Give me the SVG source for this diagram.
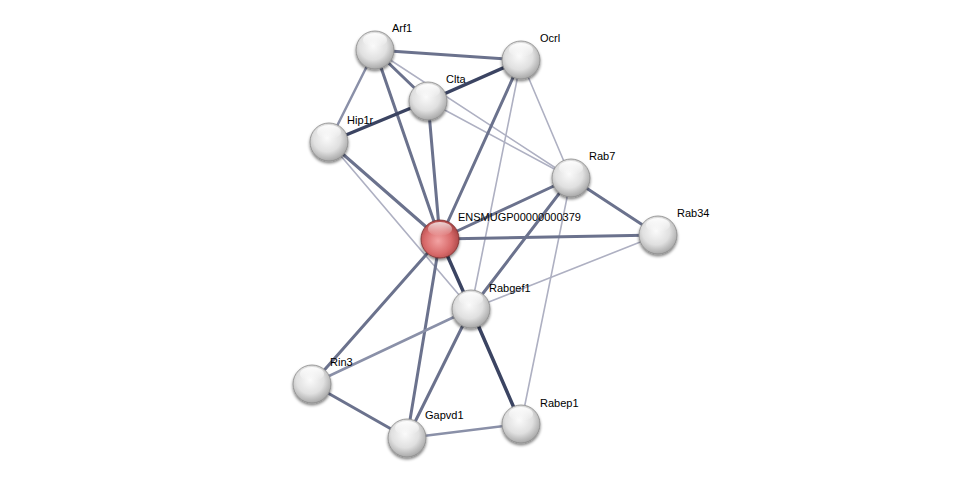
<svg xmlns="http://www.w3.org/2000/svg" width="975" height="483" viewBox="0 0 975 483">
<style>
.e{fill:none;stroke-linecap:round}
.d{stroke:#3b4462;stroke-width:3.5}
.m{stroke:#6b728d;stroke-width:3}
.ml{stroke:#8a90a8;stroke-width:2.5}
.l{stroke:#aeb0c2;stroke-width:1.6}
text{font-family:"Liberation Sans",Arial,sans-serif;font-size:11px;fill:#000}
</style>
<defs>
<radialGradient id="g" cx="0.45" cy="0.4" r="0.6">
<stop offset="0" stop-color="#fafafa"/>
<stop offset="0.6" stop-color="#e0e0e0"/>
<stop offset="1" stop-color="#a9a9a9"/>
</radialGradient>
<radialGradient id="r" cx="0.45" cy="0.55" r="0.6">
<stop offset="0" stop-color="#f3a3a3"/>
<stop offset="0.6" stop-color="#d86a6a"/>
<stop offset="1" stop-color="#a34040"/>
</radialGradient>
<linearGradient id="h" x1="0" y1="0" x2="0" y2="1">
<stop offset="0" stop-color="#fff" stop-opacity="0.95"/>
<stop offset="1" stop-color="#fff" stop-opacity="0"/>
</linearGradient>
<filter id="s" x="-30%" y="-30%" width="160%" height="170%">
<feGaussianBlur in="SourceAlpha" stdDeviation="1.5"/>
<feOffset dx="0" dy="2" result="o"/>
<feComponentTransfer><feFuncA type="linear" slope="0.5"/></feComponentTransfer>
<feMerge><feMergeNode/><feMergeNode in="SourceGraphic"/></feMerge>
</filter>
<g id="ball"><circle r="19" fill="url(#g)" stroke="#8a8a8a" stroke-width="0.8"/><ellipse cx="0" cy="-10" rx="12" ry="7" fill="url(#h)"/></g>
<g id="rball"><circle r="19" fill="url(#r)" stroke="#7a2e2e" stroke-width="0.8"/><ellipse cx="0" cy="-10" rx="12" ry="7" fill="url(#h)" opacity="0.8"/></g>
</defs>
<rect width="975" height="483" fill="#fff"/>
<g id="edges">
<line class="e m" x1="375" y1="50" x2="521" y2="60"/>
<line class="e ml" x1="375" y1="50" x2="329" y2="142"/>
<line class="e m" x1="375" y1="50" x2="428" y2="101"/>
<line class="e m" x1="375" y1="50" x2="440" y2="239"/>
<line class="e l" x1="375" y1="50" x2="571" y2="178"/>
<line class="e d" x1="428" y1="101" x2="521" y2="60"/>
<line class="e d" x1="428" y1="101" x2="329" y2="142"/>
<line class="e m" x1="428" y1="101" x2="440" y2="239"/>
<line class="e l" x1="428" y1="101" x2="571" y2="178"/>
<line class="e m" x1="521" y1="60" x2="440" y2="239"/>
<line class="e l" x1="521" y1="60" x2="571" y2="178"/>
<line class="e l" x1="521" y1="60" x2="471" y2="309"/>
<line class="e m" x1="329" y1="142" x2="440" y2="239"/>
<line class="e l" x1="329" y1="142" x2="471" y2="309"/>
<line class="e m" x1="571" y1="178" x2="440" y2="239"/>
<line class="e m" x1="571" y1="178" x2="658" y2="235"/>
<line class="e m" x1="571" y1="178" x2="471" y2="309"/>
<line class="e l" x1="571" y1="178" x2="521" y2="424"/>
<line class="e m" x1="440" y1="239" x2="658" y2="235"/>
<line class="e l" x1="658" y1="235" x2="471" y2="309"/>
<line class="e d" x1="440" y1="239" x2="471" y2="309"/>
<line class="e m" x1="440" y1="239" x2="312" y2="384"/>
<line class="e m" x1="440" y1="239" x2="407" y2="438"/>
<line class="e ml" x1="471" y1="309" x2="312" y2="384"/>
<line class="e m" x1="471" y1="309" x2="407" y2="438"/>
<line class="e d" x1="471" y1="309" x2="521" y2="424"/>
<line class="e m" x1="312" y1="384" x2="407" y2="438"/>
<line class="e ml" x1="407" y1="438" x2="521" y2="424"/>
</g>
<g id="n-arf1"><use href="#ball" x="375" y="50" filter="url(#s)"/><text x="392" y="32">Arf1</text></g>
<g id="n-ocrl"><use href="#ball" x="521" y="60" filter="url(#s)"/><text x="540" y="42">Ocrl</text></g>
<g id="n-clta"><use href="#ball" x="428" y="101" filter="url(#s)"/><text x="446" y="83">Clta</text></g>
<g id="n-hip1r"><use href="#ball" x="329" y="142" filter="url(#s)"/><text x="347" y="124">Hip1r</text></g>
<g id="n-rab7"><use href="#ball" x="571" y="178" filter="url(#s)"/><text x="589" y="160">Rab7</text></g>
<g id="n-ensmug"><use href="#rball" x="440" y="239" filter="url(#s)"/><text x="458" y="221">ENSMUGP00000000379</text></g>
<g id="n-rab34"><use href="#ball" x="658" y="235" filter="url(#s)"/><text x="677" y="217">Rab34</text></g>
<g id="n-rabgef1"><use href="#ball" x="471" y="309" filter="url(#s)"/><text x="489" y="292">Rabgef1</text></g>
<g id="n-rin3"><use href="#ball" x="312" y="384" filter="url(#s)"/><text x="330" y="366">Rin3</text></g>
<g id="n-gapvd1"><use href="#ball" x="407" y="438" filter="url(#s)"/><text x="425" y="419">Gapvd1</text></g>
<g id="n-rabep1"><use href="#ball" x="521" y="424" filter="url(#s)"/><text x="540" y="407">Rabep1</text></g>
</svg>
